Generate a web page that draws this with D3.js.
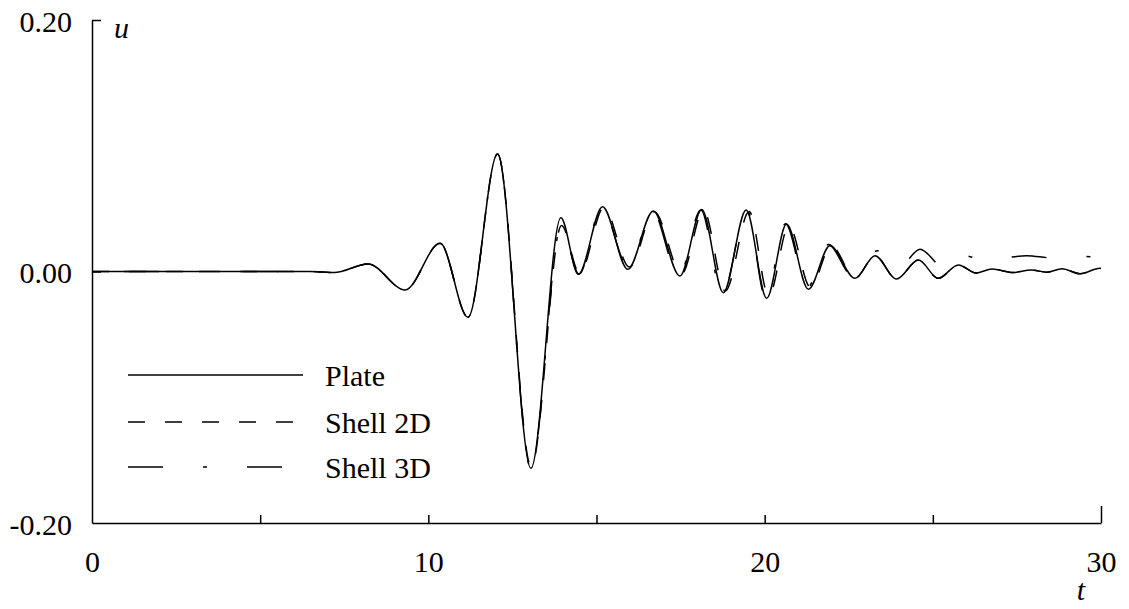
<!DOCTYPE html>
<html>
<head>
<meta charset="utf-8">
<script src="https://cdn.jsdelivr.net/npm/d3@7"></script>
<style>
  html, body { margin: 0; padding: 0; background: #fff; }
  svg { display: block; }
  text { font-family: "Liberation Serif", "Times New Roman", serif; fill: #000; }
</style>
</head>
<body>
<svg id="chart" width="1129" height="609"></svg>
<script>
// Displacement u versus time t for the three structural models
const tPlate = [0, 3, 6.5, 7.2, 8.21, 9.31, 10.35, 11.18, 12.06, 13.05, 13.94, 14.46, 15.18, 15.93,
  16.69, 17.48, 18.13, 18.77, 19.45, 20.06, 20.65, 21.30, 21.94, 22.69, 23.28, 23.92, 24.57,
  25.16, 25.76, 26.28, 26.76, 27.38, 27.92, 28.39, 28.84, 29.38, 29.97, 30];
const uPlate = [0, 0, 0, -0.0008, 0.006, -0.0147, 0.0224, -0.0364, 0.0934, -0.1565, 0.0428, -0.0023, 0.0515, 0.0017,
  0.0481, -0.0036, 0.0494, -0.0168, 0.0489, -0.0213, 0.0378, -0.0142, 0.0205, -0.0054, 0.0126, -0.006, 0.0091,
  -0.0054, 0.0052, -0.0012, 0.0020, -0.0008, 0.0012, -0.0006, 0.0022, -0.0018, 0.0025, 0.0024];

const tShell2D = [0, 3, 6.5, 7.2, 8.21, 9.31, 10.35, 11.18, 12.06, 13.06, 13.96, 14.5, 15.22, 15.98,
  16.72, 17.53, 18.18, 18.83, 19.54, 20.12, 20.72, 21.36, 21.98, 22.69, 23.28, 23.92, 24.57,
  25.16, 25.76, 26.28, 26.76, 27.38, 27.92, 28.39, 28.84, 29.38, 29.97, 30];
const uShell2D = [0, 0, 0, -0.0008, 0.006, -0.0147, 0.0224, -0.0364, 0.0934, -0.1555, 0.0365, -0.0015, 0.051, 0.0035,
  0.0475, -0.002, 0.0488, -0.0155, 0.0478, -0.0195, 0.0365, -0.0125, 0.0205, -0.0054, 0.0126, -0.006, 0.0091,
  -0.0054, 0.0052, -0.0012, 0.0020, -0.0008, 0.0012, -0.0006, 0.0022, -0.0018, 0.0025, 0.0024];

const tShell3D = [0, 3, 6.5, 7.2, 8.21, 9.31, 10.35, 11.18, 12.06, 13.05, 13.95, 14.48, 15.15, 15.95,
  16.66, 17.45, 18.10, 18.74, 19.47, 20.03, 20.62, 21.26, 21.90, 22.59, 23.35, 24.0, 24.62,
  25.35, 25.90, 26.55, 27.80, 28.55, 29.35, 30];
const uShell3D = [0, 0, 0, -0.0008, 0.006, -0.0147, 0.0224, -0.0364, 0.0934, -0.1565, 0.0362, -0.002, 0.0512, 0.003,
  0.048, -0.004, 0.049, -0.018, 0.0492, -0.021, 0.038, -0.013, 0.0215, -0.0028, 0.0165, 0.0035, 0.0177,
  0.0025, 0.0128, 0.0088, 0.0126, 0.0108, 0.012, 0.0112];

const seriesNames = ["Plate", "Shell 2D", "Shell 3D"];
const seriesDash = [null, "17,20", "35,40,4,40"];
const seriesDashOffset = [0, 0, -32];

const xTicks = [0, 5, 10, 15, 20, 25, 30];
const xTickLabels = ["0", "", "10", "", "20", "", "30"];
const yTicks = [-0.2, 0, 0.2];
const yTickLabels = ["-0.20", "0.00", "0.20"];

const svg = d3.select("#chart");
const FONT = 30;

const x = d3.scaleLinear().domain([0, 30]).range([92, 1101]);
const y = d3.scaleLinear().domain([-0.2, 0.2]).range([523, 20]);

// Curves
const line = d3.line()
  .x(d => x(d[0]))
  .y(d => y(d[1]))
  .curve(d3.curveMonotoneX);

const series = [
  d3.zip(tPlate, uPlate),
  d3.zip(tShell2D, uShell2D),
  d3.zip(tShell3D, uShell3D)
];

const curves = svg.append("g").attr("fill", "none").attr("stroke", "#000");
series.forEach((pts, i) => {
  const p = curves.append("path")
    .attr("d", line(pts))
    .attr("stroke-width", 1.5);
  if (seriesDash[i]) {
    p.attr("stroke-dasharray", seriesDash[i])
     .attr("stroke-dashoffset", seriesDashOffset[i]);
  }
});

// Bottom axis with inward ticks
const xAxis = d3.axisBottom(x)
  .tickValues(xTicks)
  .tickFormat((d, i) => xTickLabels[i])
  .tickSizeInner(-8)
  .tickSizeOuter(0)
  .tickPadding(28);
const gx = svg.append("g").attr("transform", "translate(0,523)").call(xAxis);
gx.attr("font-family", null).attr("font-size", null);
gx.selectAll("text").attr("font-size", FONT).attr("dy", null).attr("y", 49);
gx.selectAll("path, line").attr("stroke", "#000").attr("stroke-width", 1.5);
gx.selectAll(".tick").filter(d => d === 30).select("line").attr("y2", -17);
gx.selectAll(".tick").filter(d => d === 0).select("line").remove();

// Left axis with inward ticks
const yAxis = d3.axisLeft(y)
  .tickValues(yTicks)
  .tickFormat((d, i) => yTickLabels[i])
  .tickSizeInner(-9)
  .tickSizeOuter(0)
  .tickPadding(20);
const gy = svg.append("g").attr("transform", "translate(92,0)").call(yAxis);
gy.attr("font-family", null).attr("font-size", null);
gy.selectAll("text").attr("font-size", FONT).attr("dy", null).attr("y", 11).attr("x", -20);
gy.selectAll("path, line").attr("stroke", "#000").attr("stroke-width", 1.5);
gy.selectAll(".tick").filter(d => d === -0.2).select("line").remove();

// Axis titles
svg.append("text").attr("x", 114).attr("y", 38)
  .attr("font-size", FONT).attr("font-style", "italic").text("u");
svg.append("text").attr("x", 1081).attr("y", 600).attr("text-anchor", "middle")
  .attr("font-size", FONT).attr("font-style", "italic").text("t");

// Legend
const legendY = [375, 422, 467];
const legend = svg.append("g");
seriesNames.forEach((name, i) => {
  const l = legend.append("line")
    .attr("x1", 128).attr("x2", 303)
    .attr("y1", legendY[i]).attr("y2", legendY[i])
    .attr("stroke", "#000").attr("stroke-width", 1.4);
  if (seriesDash[i]) l.attr("stroke-dasharray", seriesDash[i]);
  legend.append("text")
    .attr("x", 325).attr("y", legendY[i] + 11)
    .attr("font-size", FONT).text(name);
});
</script>
</body>
</html>
